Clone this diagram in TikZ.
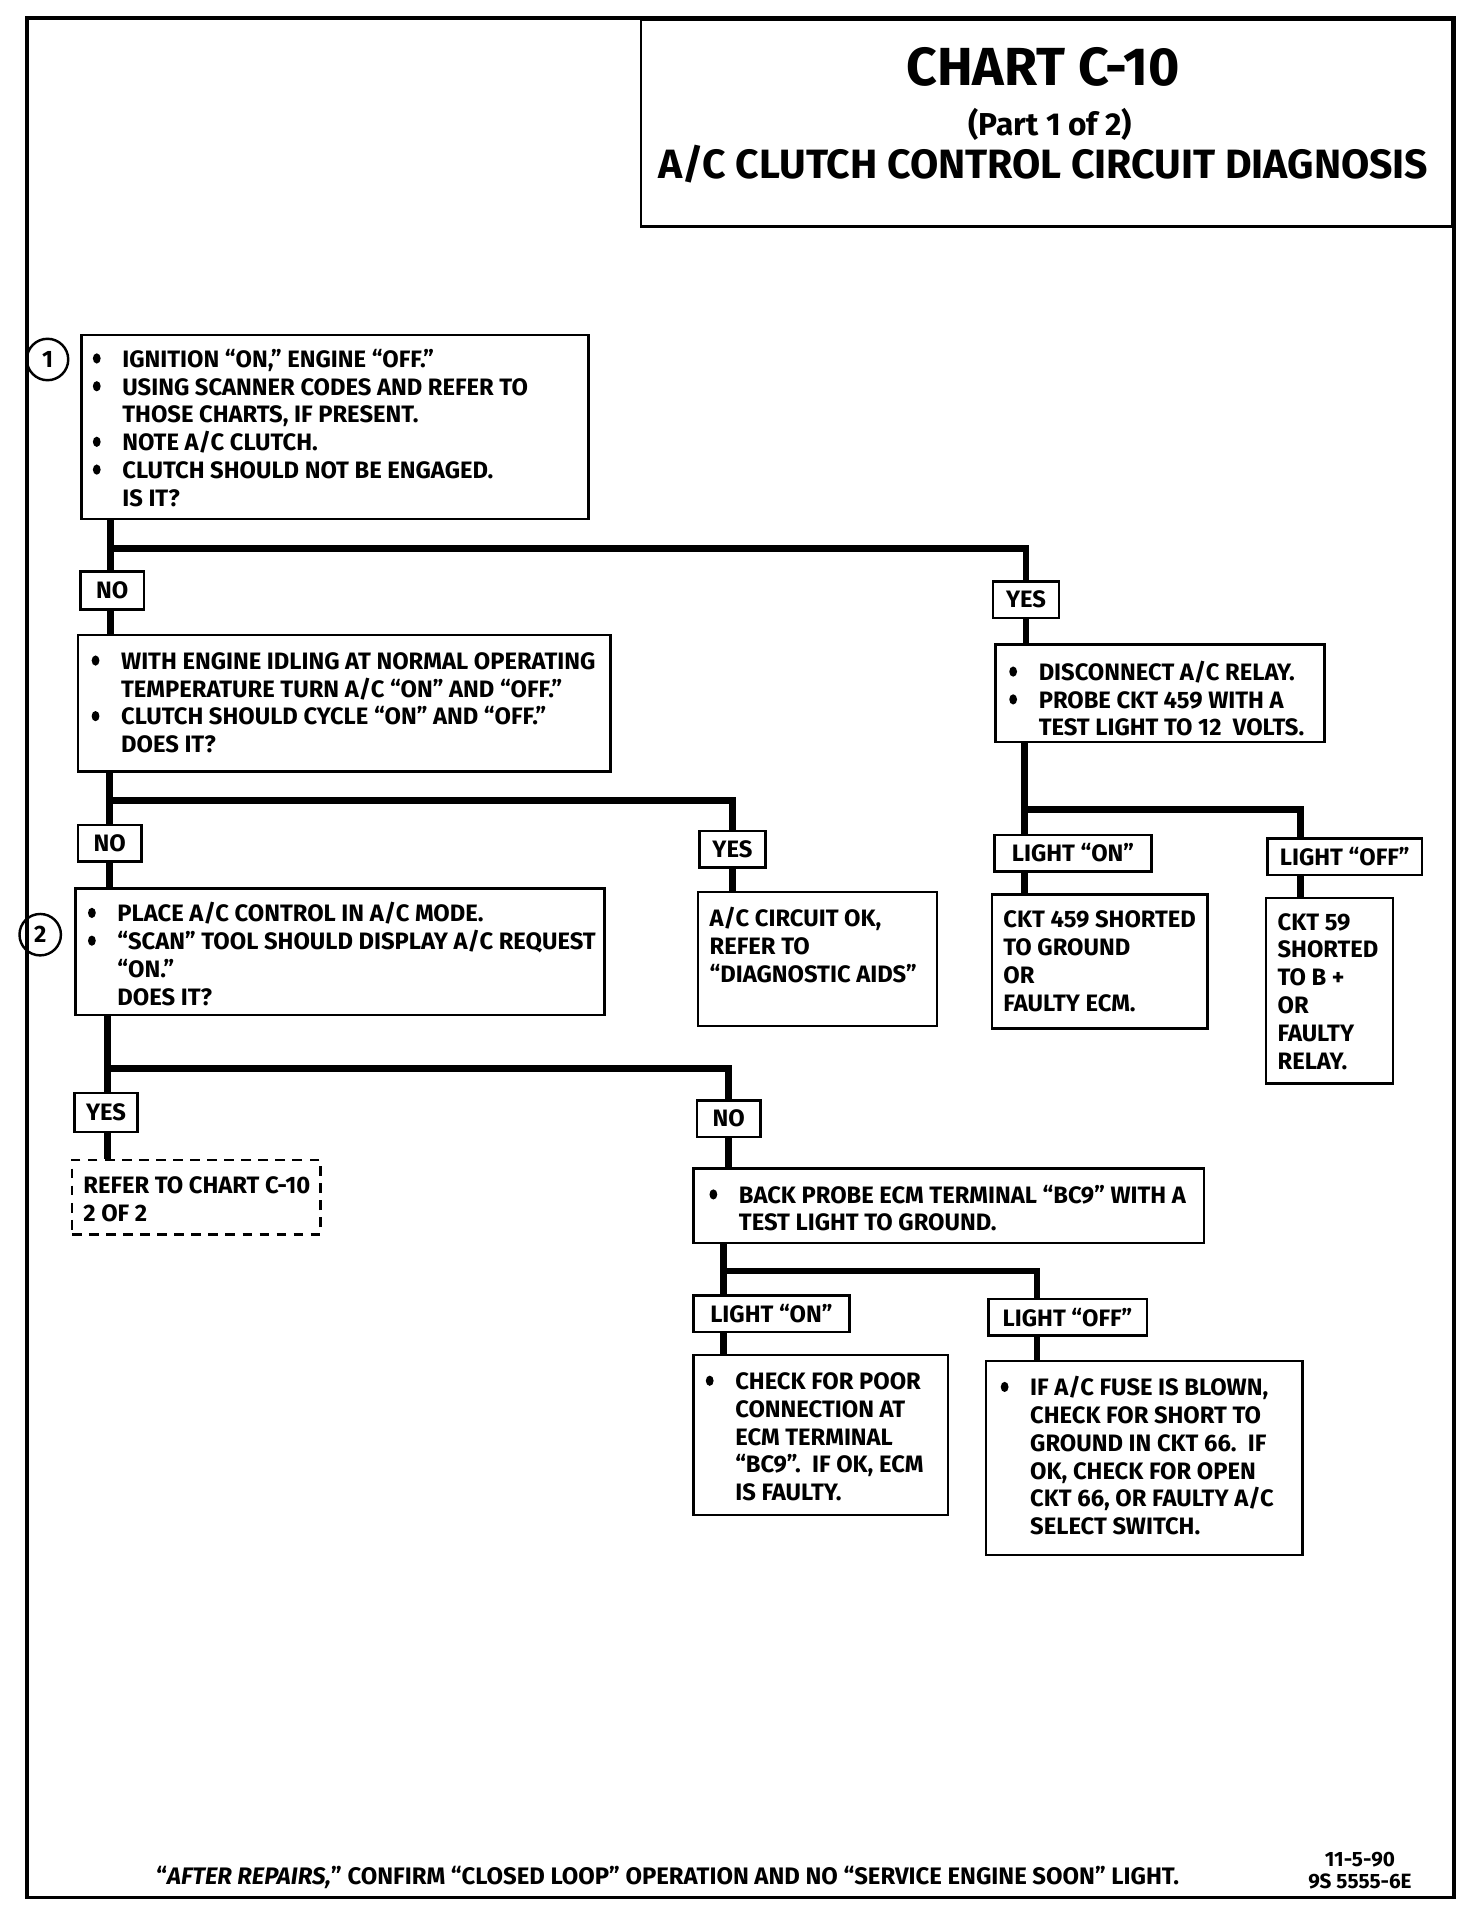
\documentclass[tikz,border=0pt]{standalone}
\usepackage{fontspec}
\setmainfont{Fira Sans}
\newcommand\bodyfont{\fontsize{9.75}{11.4}\selectfont\bfseries}
\newcommand\bul{\makebox[13pt][l]{\tikz[x=1pt,y=1pt,baseline=0pt]{\useasboundingbox (0,0) rectangle (5,6);\fill (2.5,3.6) ellipse[x radius=1.6, y radius=2.1];}}}
\newcommand\ind{\hspace*{13pt}}
\newcommand\bx[6][]{\node[box,#1,minimum width={(#5-#3)*0.5pt},minimum height={(#6-#4)*0.5pt}] (#2) at (#3,#4) {};}
\newcommand\lbl[7][]{\node[box,lab,#1,minimum width={(#5-#3)*0.5pt},minimum height={(#6-#4)*0.5pt}] (#2) at (#3,#4) {#7};}
\begin{document}
\begin{tikzpicture}[x=0.5pt,y=-0.5pt,
  box/.style={draw,line width=1pt,inner sep=0pt,anchor=north west,shape=rectangle},
  lab/.style={font=\bodyfont},
  conn/.style={line width=2.8pt,line join=miter},
  txt/.style={anchor=north west,inner sep=0pt,align=left,font=\bodyfont},
  num/.style={circle,draw,line width=1pt,minimum size=17pt,inner sep=0pt,font=\bodyfont}]
\useasboundingbox (0,0) rectangle (1208,1569);
% frame and title
\draw[line width=1.5pt] (22,15) rectangle (1193,1557);
\bx{title}{525}{15}{1191}{185}
\node[font=\fontsize{22}{26}\selectfont\bfseries] (t1) at (856,55) {CHART C-10};
\node[font=\fontsize{13}{16}\selectfont\bfseries] (t2) at (862,102) {(Part 1 of 2)};
\node[font=\fontsize{16.8}{19}\selectfont\bfseries] (t3) at (856,135) {A/C CLUTCH CONTROL CIRCUIT DIAGNOSIS};
% box 1
\node[num] (c1) at (39,295) {1};
\bx{b1}{66}{274}{482}{425}
\node[txt] (b1t) at (74,286) {\bul IGNITION “ON,” ENGINE “OFF.”\\
\bul USING SCANNER CODES AND REFER TO\\
\ind THOSE CHARTS, IF PRESENT.\\
\bul NOTE A/C CLUTCH.\\
\bul CLUTCH SHOULD NOT BE ENGAGED.\\
\ind IS IT?};
\coordinate (j1) at (91,450);
\lbl{no1}{65}{468}{117}{499}{NO}
\bx{b2}{63}{520}{500}{632}
\node[txt] (b2t) at (73,535) {\bul WITH ENGINE IDLING AT NORMAL OPERATING\\
\ind TEMPERATURE TURN A/C “ON” AND “OFF.”\\
\bul CLUTCH SHOULD CYCLE “ON” AND “OFF.”\\
\ind DOES IT?};
\coordinate (j2) at (90,657);
\lbl{no2}{63}{676}{115}{706}{NO}
\lbl{yesM}{573}{681}{627}{711}{YES}
\node[num] (c2) at (33,767) {2};
\bx{b3}{61}{728}{495}{832}
\node[txt] (b3t) at (70,740) {\bul PLACE A/C CONTROL IN A/C MODE.\\
\bul “SCAN” TOOL SHOULD DISPLAY A/C REQUEST\\
\ind “ON.”\\
\ind DOES IT?};
\bx{okb}{572}{731}{768}{841}
\node[txt] (okt) at (582,744) {A/C CIRCUIT OK,\\REFER TO\\“DIAGNOSTIC AIDS”};
% right branch
\lbl{yesR}{814}{476}{868}{506}{YES}
\bx{r1}{816}{528}{1086}{608}
\node[txt] (r1t) at (826,542) {\bul DISCONNECT A/C RELAY.\\
\bul PROBE CKT 459 WITH A\\
\ind TEST LIGHT TO 12~~VOLTS.};
\coordinate (j3) at (841,664);
\coordinate (xOffR) at (1067,0);
\lbl{lonR}{815}{684}{944}{714}{LIGHT “ON”}
\lbl{loffR}{1039}{687}{1166}{717}{LIGHT “OFF”}
\bx{ckt459}{813}{733}{990}{843}
\node[txt] (ckt459t) at (823,747) {CKT 459 SHORTED\\TO GROUND\\OR\\FAULTY ECM.};
\bx{ckt59}{1038}{736}{1142}{888}
\node[txt] (ckt59t) at (1048,749) {CKT 59\\SHORTED\\TO B +\\OR\\FAULTY\\RELAY.};
% lower branch
\coordinate (j4) at (88,877);
\lbl{yesL}{60}{896}{112}{928}{YES}
\bx[dashed,dash pattern=on 4pt off 3pt]{refer}{58}{951}{262}{1012}
\node[txt] (refert) at (68,965) {REFER TO CHART C-10\\2 OF 2};
\lbl{noB}{571}{902}{623}{932}{NO}
\bx{bp}{568}{958}{987}{1019}
\node[txt] (bpt) at (580,972) {\bul BACK PROBE ECM TERMINAL “BC9” WITH A\\
\ind TEST LIGHT TO GROUND.};
\coordinate (j5) at (594,1043);
\coordinate (xOffB) at (851,0);
\lbl{lonB}{568}{1062}{696}{1092}{LIGHT “ON”}
\lbl{loffB}{810}{1065}{940}{1095}{LIGHT “OFF”}
\bx{chk}{568}{1111}{777}{1242}
\node[txt] (chkt) at (577,1126) {\bul CHECK FOR POOR\\
\ind CONNECTION AT\\
\ind ECM TERMINAL\\
\ind “BC9”.~~IF OK, ECM\\
\ind IS FAULTY.};
\bx{ifac}{808}{1116}{1068}{1275}
\node[txt] (ifact) at (819,1129) {\bul IF A/C FUSE IS BLOWN,\\
\ind CHECK FOR SHORT TO\\
\ind GROUND IN CKT 66.~~IF\\
\ind OK, CHECK FOR OPEN\\
\ind CKT 66, OR FAULTY A/C\\
\ind SELECT SWITCH.};
% connectors
\draw[conn] (b1.south -| j1) -- (no1.north -| j1);
\draw[conn] (j1) -| (yesR.north);
\draw[conn] (no1.south -| j1) -- (b2.north -| j1);
\draw[conn] (b2.south -| j2) -- (no2.north -| j2);
\draw[conn] (j2) -| (yesM.north);
\draw[conn] (no2.south -| j2) -- (b3.north -| j2);
\draw[conn] (yesM.south) -- (okb.north -| yesM.south);
\draw[conn] (yesR.south) -- (r1.north -| yesR.south);
\draw[conn] (r1.south -| j3) -- (lonR.north -| j3);
\draw[conn] (j3) -| (loffR.north -| xOffR);
\draw[conn] (lonR.south -| j3) -- (ckt459.north -| j3);
\draw[conn] (loffR.south -| xOffR) -- (ckt59.north -| xOffR);
\draw[conn] (b3.south -| j4) -- (yesL.north -| j4);
\draw[conn] (j4) -| (noB.north);
\draw[conn] (yesL.south -| j4) -- (refer.north -| j4);
\draw[conn] (noB.south) -- (bp.north -| noB.south);
\draw[conn] (bp.south -| j5) -- (lonB.north -| j5);
\draw[conn] (j5) -| (loffB.north -| xOffB);
\draw[conn] (lonB.south -| j5) -- (chk.north -| j5);
\draw[conn] (loffB.south -| xOffB) -- (ifac.north -| xOffB);
% footer
\node[font=\fontsize{9.8}{11}\selectfont\bfseries] (foot) at (548,1541) {“\textit{AFTER REPAIRS,}” CONFIRM “CLOSED LOOP” OPERATION AND NO “SERVICE ENGINE SOON” LIGHT.};
\node[font=\fontsize{8.5}{9}\selectfont\bfseries,align=center] (code) at (1116,1535) {11-5-90\\9S 5555-6E};
\end{tikzpicture}
\end{document}
